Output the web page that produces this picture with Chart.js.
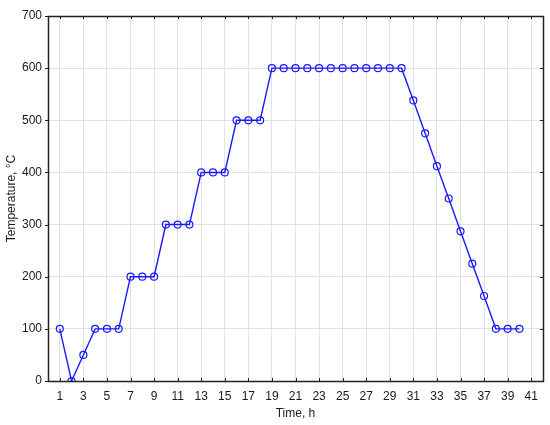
<!DOCTYPE html>
<html>
<head>
<meta charset="utf-8">
<script src="https://cdn.jsdelivr.net/npm/chart.js@4"></script>
<style>
  html, body { margin: 0; padding: 0; background: #fff; }
  #wrap { width: 550px; height: 425px; }
</style>
</head>
<body>
<div id="wrap"><canvas id="c" width="550" height="425"></canvas></div>
<script>
// time in hours
const hours = [1, 2, 3, 4, 5, 6, 7, 8, 9, 10, 11, 12, 13, 14, 15, 16, 17, 18, 19, 20,
  21, 22, 23, 24, 25, 26, 27, 28, 29, 30, 31, 32, 33, 34, 35, 36, 37, 38, 39, 40];
// temperature, °C
const temps = [100, 0, 50, 100, 100, 100, 200, 200, 200, 300, 300, 300, 400, 400, 400, 500, 500, 500, 600, 600,
  600, 600, 600, 600, 600, 600, 600, 600, 600, 600, 538, 475, 412, 350, 287, 225, 163, 100, 100, 100];
const xTicks = [1, 3, 5, 7, 9, 11, 13, 15, 17, 19, 21, 23, 25, 27, 29, 31, 33, 35, 37, 39, 41];
const yTicks = [0, 100, 200, 300, 400, 500, 600, 700];

const font = { family: 'Liberation Sans, Arial, sans-serif', size: 12 };

// frame + small tick marks on all four sides
const framePlugin = {
  id: 'frame',
  afterDatasetsDraw(chart) {
    const { ctx, chartArea: a, scales } = chart;
    ctx.save();
    ctx.strokeStyle = '#222';
    ctx.lineWidth = 1;
    ctx.beginPath();
    xTicks.forEach(v => {
      const px = Math.round(scales.x.getPixelForValue(v)) + 0.5;
      ctx.moveTo(px, a.bottom); ctx.lineTo(px, a.bottom - 3);
      ctx.moveTo(px, a.top); ctx.lineTo(px, a.top + 3);
    });
    yTicks.forEach(v => {
      const py = Math.round(scales.y.getPixelForValue(v)) + 0.5;
      ctx.moveTo(a.left - 3, py); ctx.lineTo(a.left, py);
      ctx.moveTo(a.right, py); ctx.lineTo(a.right - 3, py);
    });
    ctx.stroke();
    ctx.lineWidth = 1.5;
    ctx.strokeRect(Math.round(a.left) + 0.5, Math.round(a.top) + 0.5,
      Math.round(a.right - a.left), Math.round(a.bottom - a.top));
    ctx.restore();
  }
};

new Chart(document.getElementById('c'), {
  type: 'line',
  data: {
    datasets: [{
      data: hours.map((h, i) => ({ x: h, y: temps[i] })),
      borderColor: '#1a1aff',
      borderWidth: 1.4,
      backgroundColor: '#ffffff',
      pointRadius: 3.5,
      pointBorderWidth: 1.2,
      pointBorderColor: '#1a1aff',
      pointBackgroundColor: 'rgba(255,255,255,0)',
      tension: 0
    }]
  },
  options: {
    responsive: false,
    animation: false,
    layout: { padding: { top: 16, right: 7, left: 0, bottom: 0 } },
    plugins: { legend: { display: false }, tooltip: { enabled: false } },
    scales: {
      x: {
        type: 'linear',
        min: 0,
        max: 42,
        afterBuildTicks: s => { s.ticks = xTicks.map(v => ({ value: v })); },
        afterFit: s => { s.height = 44; },
        grid: {
          color: c => (c.tick && c.tick.value % 2 === 1 ? '#e2e2e2' : 'rgba(0,0,0,0)'),
          drawTicks: false, lineWidth: 1
        },
        border: { display: false },
        ticks: { color: '#1a1a1a', font: font, padding: 8, maxRotation: 0, autoSkip: false },
        title: { display: true, text: 'Time, h', color: '#1a1a1a', font: font, padding: { top: 5 } }
      },
      y: {
        min: 0,
        max: 700,
        afterBuildTicks: s => { s.ticks = yTicks.map(v => ({ value: v })); },
        afterFit: s => { s.width = 48; },
        grid: { color: '#e2e2e2', drawTicks: false, lineWidth: 1 },
        border: { display: false },
        ticks: { color: '#1a1a1a', font: font, padding: 6 },
        title: { display: true, text: 'Temperature, °C', color: '#1a1a1a', font: font, padding: { bottom: 2 } }
      }
    }
  },
  plugins: [framePlugin]
});
</script>
</body>
</html>
